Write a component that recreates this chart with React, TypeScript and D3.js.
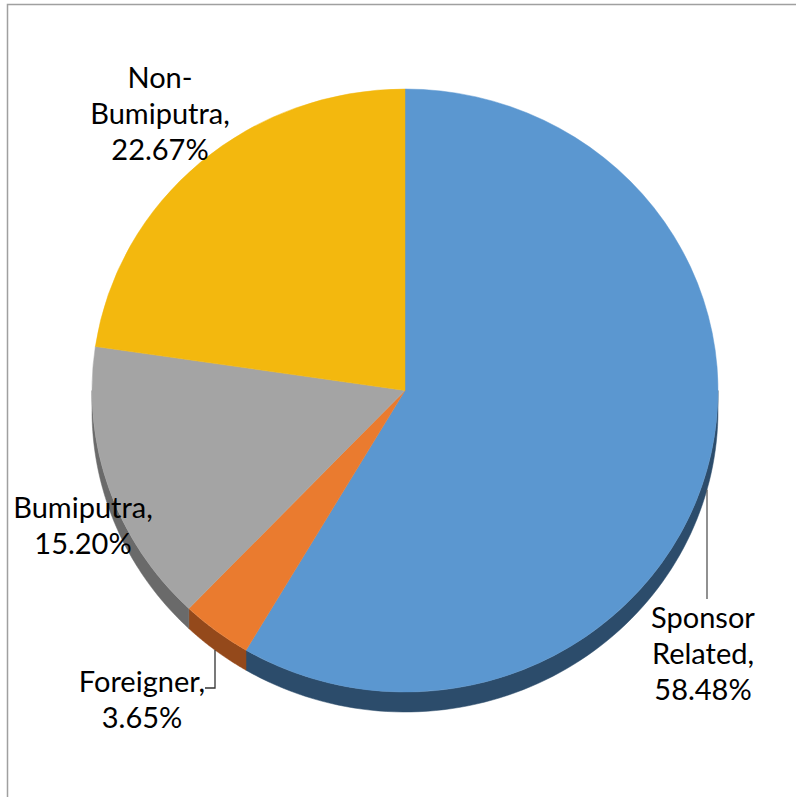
import React from "react";
import * as d3 from "d3";

const categories = ["Sponsor Related", "Foreigner", "Bumiputra", "Non-Bumiputra"];
const values = [58.48, 3.65, 15.2, 22.67];
const labelLines = [
  ["Sponsor", "Related,", "58.48%"],
  ["Foreigner,", "3.65%"],
  ["Bumiputra,", "15.20%"],
  ["Non-", "Bumiputra,", "22.67%"],
];
const faceColors = ["#5B97D0", "#EA7B2F", "#A4A4A4", "#F3B80E"];
const sideColors = ["#2C4C6B", "#94491B", "#6A6A6A", "#A47A08"];

const W = 796;
const H = 797;
const cx = 405;
const cy = 390.5;
const rx = 313;
const ry = 301.5;
const depth = 20;

// label layout: center x and first baseline
const labelPos = [
  { x: 703, y: 628 },
  { x: 142, y: 692 },
  { x: 83, y: 518 },
  { x: 160, y: 88 },
];
const lineH = 36;

export default function App() {
  const pie = d3
    .pie<number>()
    .sort(null)
    .value((d) => d)
    .startAngle(0)
    .endAngle(2 * Math.PI);
  const arcs = pie(values);
  const arcGen = d3.arc<d3.PieArcDatum<number>>().innerRadius(0).outerRadius(rx);

  const pt = (a: number, dy = 0): [number, number] => [
    cx + rx * Math.sin(a),
    cy - ry * Math.cos(a) + dy,
  ];

  const sides = arcs
    .map((a, i) => {
      const a0 = Math.max(a.startAngle, Math.PI / 2);
      const a1 = Math.min(a.endAngle, (3 * Math.PI) / 2);
      if (a1 <= a0) return null;
      const n = 80;
      const top: [number, number][] = d3.range(n + 1).map((k) => pt(a0 + ((a1 - a0) * k) / n));
      const bot: [number, number][] = d3.range(n + 1).map((k) => pt(a1 - ((a1 - a0) * k) / n, depth));
      const d = d3.line()([...top, ...bot]) + "Z";
      return { d, i };
    })
    .filter(Boolean) as { d: string; i: number }[];

  const sideBottomY = (x: number) => {
    const s = (x - cx) / rx;
    return cy + ry * Math.sqrt(Math.max(0, 1 - s * s)) + depth;
  };

  const sponsorLx = 707;
  const foreignLx = 215;

  return (
    <svg
      width={W}
      height={H}
      style={{ position: "absolute", left: 0, top: 0, background: "#fff" }}
      fontFamily="Lato, 'Open Sans', sans-serif"
    >
      <rect width={W} height={H} fill="#fff" />
      <path d={`M7.5,${H} V4.5 H${W}`} fill="none" stroke="#A0A0A0" strokeWidth={1.5} />
      {sides.map((s) => (
        <path key={"s" + s.i} d={s.d} fill={sideColors[s.i]} stroke={sideColors[s.i]} strokeWidth={0.5} />
      ))}
      <g transform={`translate(${cx},${cy}) scale(1,${ry / rx})`}>
        {arcs.map((a, i) => (
          <path key={i} d={arcGen(a) || ""} fill={faceColors[i]} stroke={faceColors[i]} strokeWidth={0.5} />
        ))}
      </g>
      <path
        d={`M${sponsorLx},${sideBottomY(sponsorLx)} V599`}
        stroke="#555"
        strokeWidth={1.3}
        fill="none"
      />
      <path
        d={`M${foreignLx},${sideBottomY(foreignLx)} V688 H205`}
        stroke="#333"
        strokeWidth={1.3}
        fill="none"
      />
      {labelLines.map((lines, i) => (
        <text key={"t" + i} textAnchor="middle" fontSize={29} fill="#000">
          {lines.map((l, k) => (
            <tspan key={k} x={labelPos[i].x} y={labelPos[i].y + k * lineH}>
              {l}
            </tspan>
          ))}
        </text>
      ))}
    </svg>
  );
}
